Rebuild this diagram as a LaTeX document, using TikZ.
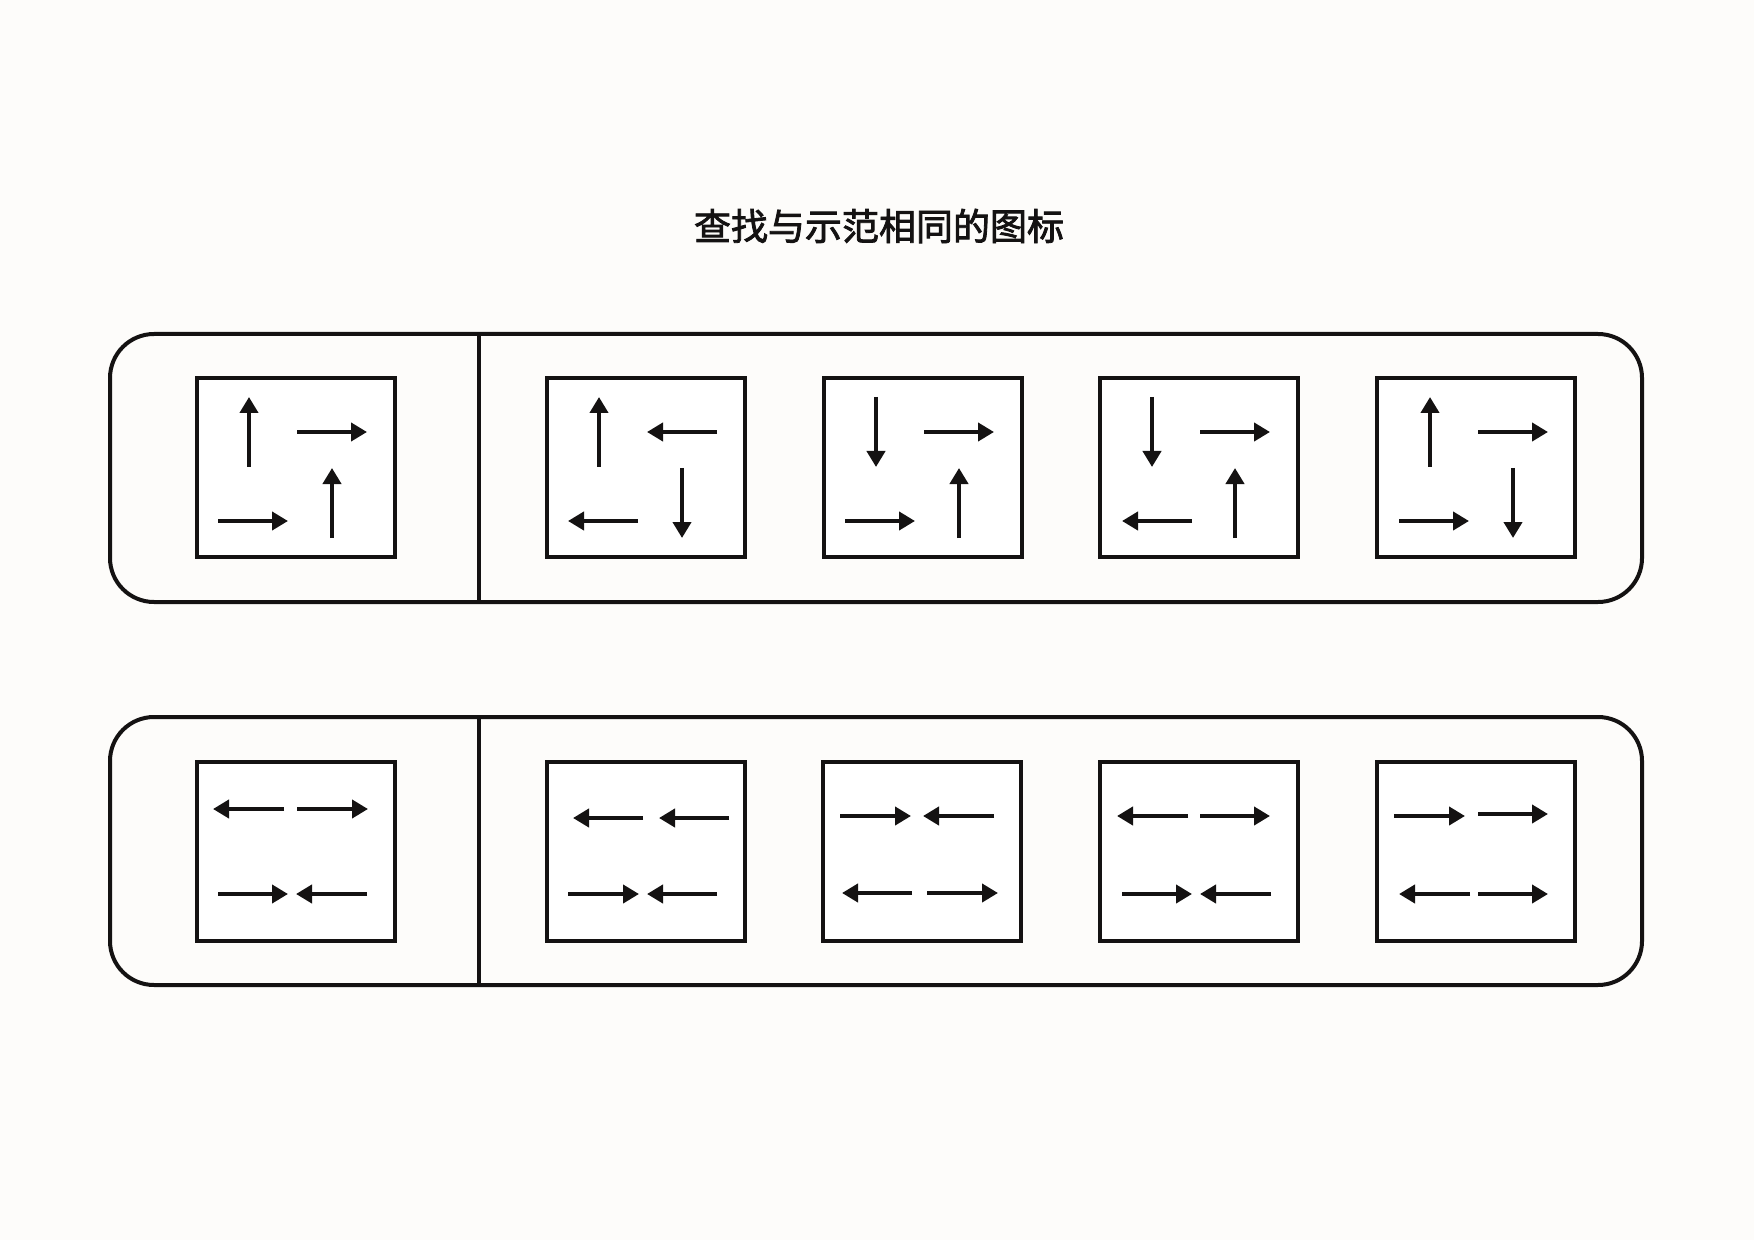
\documentclass[tikz,border=0pt]{standalone}
\usepackage{fontspec}
\newfontfamily\cjk[FakeBold=2.2]{Noto Sans CJK SC}
\usetikzlibrary{arrows.meta}
\definecolor{bg}{RGB}{253,252,250}
\definecolor{ink}{RGB}{20,18,18}
\begin{document}
\begin{tikzpicture}[x=0.5pt,y=-0.5pt,
  frame/.style={draw=ink,line width=2pt,rounded corners=22pt},
  divider/.style={draw=ink,line width=1.6pt},
  box/.style={draw=ink,line width=2.2pt,minimum width=99pt,minimum height=89.5pt,anchor=north west,inner sep=0pt,outer sep=0pt,fill=white},
  arr/.style={draw=ink,line width=2.1pt,-{Triangle[length=8pt,width=9pt]}},
  title/.style={font=\cjk\fontsize{18.5pt}{22pt}\selectfont,text=ink}]
\path[fill=bg] (0,0) rectangle (1754,1240);
\node[title] (title) at (879,226) {查找与示范相同的图标};
% row 1 container
\draw[frame] (110,334) rectangle (1642,602);
\coordinate (d1t) at (479,334);
\coordinate (d1b) at (479,602);
\draw[divider] (d1t) -- (d1b);
% row 2 container
\draw[frame] (110,717) rectangle (1642,985);
\coordinate (d2t) at (479,717);
\coordinate (d2b) at (479,985);
\draw[divider] (d2t) -- (d2b);
% row 1 boxes
\node[box] (a1) at (197,378) {};
\node[box] (a2) at (547,378) {};
\node[box] (a3) at (824,378) {};
\node[box] (a4) at (1100,378) {};
\node[box] (a5) at (1377,378) {};
% row 2 boxes
\node[box] (b1) at (197,762) {};
\node[box] (b2) at (547,762) {};
\node[box] (b3) at (823,762) {};
\node[box] (b4) at (1100,762) {};
\node[box] (b5) at (1377,762) {};
% row 1 arrows
\begin{scope}[shift={(197,378)}]
  \draw[arr] (52,89) -- (52,19);
  \draw[arr] (100,54) -- (170,54);
  \draw[arr] (135,160) -- (135,90);
  \draw[arr] (21,143) -- (91,143);
\end{scope}
\begin{scope}[shift={(547,378)}]
  \draw[arr] (52,89) -- (52,19);
  \draw[arr] (170,54) -- (100,54);
  \draw[arr] (135,90) -- (135,160);
  \draw[arr] (91,143) -- (21,143);
\end{scope}
\begin{scope}[shift={(824,378)}]
  \draw[arr] (52,19) -- (52,89);
  \draw[arr] (100,54) -- (170,54);
  \draw[arr] (135,160) -- (135,90);
  \draw[arr] (21,143) -- (91,143);
\end{scope}
\begin{scope}[shift={(1100,378)}]
  \draw[arr] (52,19) -- (52,89);
  \draw[arr] (100,54) -- (170,54);
  \draw[arr] (135,160) -- (135,90);
  \draw[arr] (92,143) -- (22,143);
\end{scope}
\begin{scope}[shift={(1377,378)}]
  \draw[arr] (53,89) -- (53,19);
  \draw[arr] (101,54) -- (171,54);
  \draw[arr] (136,90) -- (136,160);
  \draw[arr] (22,143) -- (92,143);
\end{scope}
% row 2 arrows
\begin{scope}[shift={(197,762)}]
  \draw[arr] (87,47) -- (16,47);
  \draw[arr] (100,47) -- (171,47);
  \draw[arr] (21,132) -- (91,132);
  \draw[arr] (170,132) -- (99,132);
\end{scope}
\begin{scope}[shift={(547,762)}]
  \draw[arr] (96,56) -- (26,56);
  \draw[arr] (182,56) -- (112,56);
  \draw[arr] (21,132) -- (92,132);
  \draw[arr] (170,132) -- (100,132);
\end{scope}
\begin{scope}[shift={(823,762)}]
  \draw[arr] (17,54) -- (88,54);
  \draw[arr] (171,54) -- (100,54);
  \draw[arr] (89,131) -- (19,131);
  \draw[arr] (104,131) -- (175,131);
\end{scope}
\begin{scope}[shift={(1100,762)}]
  \draw[arr] (88,54) -- (17,54);
  \draw[arr] (100,54) -- (170,54);
  \draw[arr] (22,132) -- (92,132);
  \draw[arr] (171,132) -- (100,132);
\end{scope}
\begin{scope}[shift={(1377,762)}]
  \draw[arr] (17,54) -- (88,54);
  \draw[arr] (101,52) -- (171,52);
  \draw[arr] (93,132) -- (22,132);
  \draw[arr] (101,132) -- (171,132);
\end{scope}
\end{tikzpicture}
\end{document}
